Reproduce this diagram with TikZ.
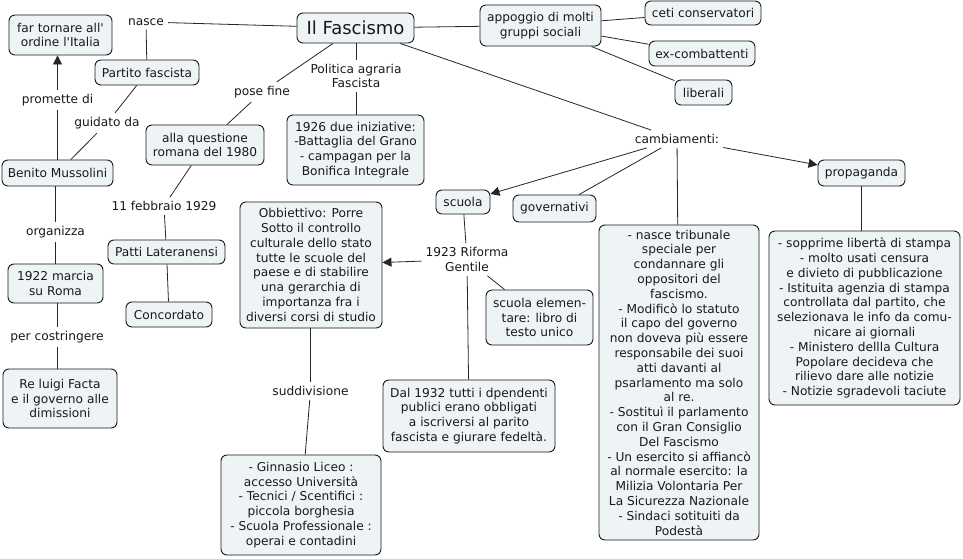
\documentclass[tikz,border=0pt]{standalone}
\usepackage{fontspec}
\newfontfamily\dvs{DejaVu Sans}
\usetikzlibrary{arrows.meta}
\definecolor{boxfill}{RGB}{238,243,246}
\begin{document}
\begin{tikzpicture}[x=1pt,y=-1pt,
  every node/.style={font=\dvs\fontsize{12.2}{14.8}\selectfont, align=center, text=black!90},
  cbox/.style={draw=black!90, fill=boxfill, rounded corners=6pt, line width=0.9pt, inner sep=0pt},
  lbl/.style={inner sep=4pt},
  conn/.style={line width=0.8pt, draw=black!85},
  arr/.style={conn, -{Triangle[length=9pt,width=9pt]}}]
\useasboundingbox (0,0) rectangle (963,559);
\fill[white] (0,0) rectangle (963,559);

% boxes
\node[cbox, minimum width=103pt, minimum height=40pt] (far) at (60.5,35) {far tornare all'\\ordine l'Italia};
\node[cbox, minimum width=117pt, minimum height=30pt, font=\dvs\fontsize{18}{20}\selectfont] (fasc) at (355.5,28) {Il Fascismo};
\node[cbox, minimum width=104pt, minimum height=25pt] (partito) at (147,72.5) {Partito fascista};
\node[cbox, minimum width=118pt, minimum height=40pt] (questione) at (205,145) {alla questione\\romana del 1980};
\node[cbox, minimum width=137pt, minimum height=70pt] (iniz) at (355.5,150) {1926 due iniziative:\\-Battaglia del Grano\\- campagan per la\\Bonifica Integrale};
\node[cbox, minimum width=111pt, minimum height=26pt] (benito) at (57.5,173) {Benito Mussolini};
\node[cbox, minimum width=121pt, minimum height=41pt] (appoggio) at (540.5,25.5) {appoggio di molti\\gruppi sociali};
\node[cbox, minimum width=116pt, minimum height=24pt] (ceti) at (703,13) {ceti conservatori};
\node[cbox, minimum width=106pt, minimum height=25pt] (excomb) at (702,53.5) {ex-combattenti};
\node[cbox, minimum width=57pt, minimum height=25pt] (liberali) at (703.5,92.5) {liberali};
\node[cbox, minimum width=87pt, minimum height=26pt] (propaganda) at (861.5,173) {propaganda};
\node[cbox, minimum width=54pt, minimum height=24pt] (scuola) at (463,202) {scuola};
\node[cbox, minimum width=83pt, minimum height=27pt] (governativi) at (554.5,208.5) {governativi};
\node[cbox, minimum width=117pt, minimum height=24pt] (patti) at (166.5,252) {Patti Lateranensi};
\node[cbox, minimum width=86pt, minimum height=25pt] (concordato) at (169,314.5) {Concordato};
\node[cbox, minimum width=95pt, minimum height=39pt] (marcia) at (55.5,283.5) {1922 marcia\\su Roma};
\node[cbox, minimum width=114pt, minimum height=59pt] (facta) at (60,398.5) {Re luigi Facta\\e il governo alle\\dimissioni};
\node[cbox, minimum width=142pt, minimum height=126pt] (obbiettivo) at (311,265) {Obbiettivo: Porre\\Sotto il controllo\\culturale dello stato\\tutte le scuole del\\paese e di stabilire\\una gerarchia di\\importanza fra i\\diversi corsi di studio};
\node[cbox, minimum width=107pt, minimum height=55pt] (elementare) at (539.5,317.5) {scuola elemen-\\tare: libro di\\testo unico};
\node[cbox, minimum width=160pt, minimum height=315pt] (tribunale) at (679,382.5) {- nasce tribunale\\speciale per\\condannare gli\\oppositori del\\fascismo.\\- Modificò lo statuto\\il capo del governo\\non doveva più essere\\responsabile dei suoi\\atti davanti al\\psarlamento ma solo\\al re.\\- Sostituì il parlamento\\con il Gran Consiglio\\Del Fascismo\\- Un esercito si affiancò\\al normale esercito: la\\Milizia Volontaria Per\\La Sicurezza Nazionale\\- Sindaci sotituiti da\\Podestà};
\node[cbox, minimum width=191pt, minimum height=174pt] (proptext) at (864.5,318) {- sopprime libertà di stampa\\- molto usati censura\\e divieto di pubblicazione\\- Istituita agenzia di stampa\\controllata dal partito, che\\selezionava le info da comu-\\nicare ai giornali\\- Ministero dellla Cultura\\Popolare decideva che\\rilievo dare alle notizie\\- Notizie sgradevoli taciute};
\node[cbox, minimum width=172pt, minimum height=72pt] (dal) at (469,416) {Dal 1932 tutti i dpendenti\\publici erano obbligati\\a iscriversi al parito\\fascista e giurare fedeltà.};
\node[cbox, minimum width=160pt, minimum height=100pt] (ginnasio) at (301,505) {- Ginnasio Liceo :\\accesso Università\\- Tecnici / Scentifici :\\piccola borghesia\\- Scuola Professionale :\\operai e contadini};

% linking labels
\node[lbl] (nasce) at (146,22) {nasce};
\node[lbl] (promette) at (57.5,100) {promette di};
\node[lbl] (guidato) at (107,123) {guidato da};
\node[lbl] (posefine) at (262,92) {pose fine};
\node[lbl] (politica) at (356,76) {Politica agraria\\Fascista};
\node[lbl] (cambiamenti) at (677,139) {cambiamenti:};
\node[lbl] (febbraio) at (164,206) {11 febbraio 1929};
\node[lbl] (organizza) at (55.5,232) {organizza};
\node[lbl] (costringere) at (57,337) {per costringere};
\node[lbl] (riforma) at (467,259.5) {1923 Riforma\\Gentile};
\node[lbl] (suddivisione) at (310.5,391) {suddivisione};

% connectors
\draw[conn] (fasc) -- (nasce);
\draw[conn] (nasce) -- (partito);
\draw[conn] (partito) -- (guidato);
\draw[conn] (guidato) -- (benito);
\draw[conn] (benito.north -| promette) -- (promette);
\draw[arr] (promette) -- (far.south -| promette);
\draw[conn] (benito.south -| organizza) -- (organizza);
\draw[conn] (organizza) -- (marcia.north -| organizza);
\draw[conn] (marcia.south -| costringere) -- (costringere);
\draw[conn] (costringere) -- (facta.north -| costringere);
\draw[conn] (fasc) -- (posefine);
\draw[conn] (posefine) -- (questione);
\draw[conn] (questione) -- (febbraio);
\draw[conn] (febbraio) -- (patti);
\draw[conn] (patti) -- (concordato);
\draw[conn] (fasc.south -| politica) -- (politica);
\draw[conn] (politica) -- (iniz.north -| politica);
\draw[conn] (fasc) -- (appoggio);
\draw[conn] (appoggio) -- (ceti);
\draw[conn] (appoggio) -- (excomb);
\draw[conn] (appoggio) -- (liberali);
\draw[conn] (fasc) -- (cambiamenti);
\draw[arr] (cambiamenti) -- (scuola);
\draw[conn] (cambiamenti) -- (governativi);
\draw[conn] (cambiamenti) -- (tribunale);
\draw[arr] (cambiamenti) -- (propaganda);
\draw[conn] (propaganda) -- (proptext.north -| propaganda);
\draw[conn] (scuola) -- (riforma);
\draw[arr] (riforma) -- (obbiettivo);
\draw[conn] (riforma) -- (elementare);
\draw[conn] (riforma) -- (dal);
\draw[conn] (obbiettivo.south -| suddivisione) -- (suddivisione);
\draw[conn] (suddivisione) -- (ginnasio);
\end{tikzpicture}
\end{document}
